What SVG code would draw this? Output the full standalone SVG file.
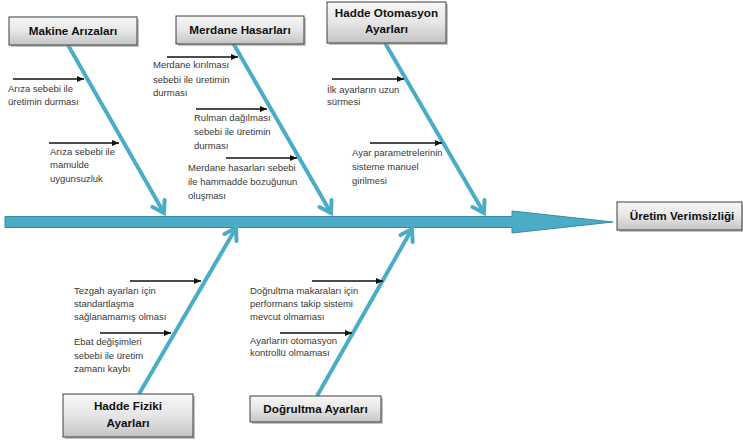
<svg xmlns="http://www.w3.org/2000/svg" width="743" height="440" viewBox="0 0 743 440">
<defs>
<linearGradient id="boxg" x1="0" y1="0" x2="0" y2="1">
<stop offset="0" stop-color="#f7f7f7"/>
<stop offset="0.5" stop-color="#e6e6e6"/>
<stop offset="1" stop-color="#c4c4c4"/>
</linearGradient>
<marker id="bone" markerUnits="userSpaceOnUse" markerWidth="30" markerHeight="30" viewBox="-15 -15 30 30" refX="0" refY="0" orient="auto">
<path d="M-11,-7 L0,0 L-11,7" fill="none" stroke="#4bacc6" stroke-width="4" stroke-linecap="round" stroke-linejoin="miter"/>
</marker>
<marker id="small" markerUnits="userSpaceOnUse" markerWidth="12" markerHeight="10" viewBox="-8 -5 10 10" refX="0" refY="0" orient="auto">
<path d="M-7,-3 L0,0 L-7,3 Z" fill="#111"/>
</marker>
</defs>
<style>
.box{fill:url(#boxg);stroke:#3f3f3f;stroke-width:1}
.shadow{fill:#9a9a9a;opacity:0.6}
.bt{font-family:"Liberation Sans",Arial,sans-serif;font-weight:bold;font-size:11.7px;fill:#111;text-anchor:middle}
.t{font-family:"Liberation Sans",Arial,sans-serif;font-size:9.5px;fill:#383838}
.b{stroke:#4bacc6;stroke-width:4;fill:none;marker-end:url(#bone)}
.a{stroke:#111;stroke-width:1.3;fill:none;marker-end:url(#small)}
</style>
<rect width="743" height="440" fill="#ffffff"/>

<g id="connectors">
<path id="spine" d="M5,216.5 L512,216.5 L512,211 L613,222 L512,233 L512,227.5 L5,227.5 Z" fill="#4bacc6" stroke="#3a8aa0" stroke-width="1"/>
<line class="b" x1="68" y1="45" x2="164" y2="213"/>
<line class="b" x1="233" y1="43" x2="331" y2="213"/>
<line class="b" x1="385" y1="43" x2="484" y2="213"/>
<line class="b" x1="139" y1="394" x2="236" y2="228"/>
<line class="b" x1="317" y1="396" x2="412" y2="229"/>
<line class="a" x1="13" y1="79" x2="84" y2="79"/>
<line class="a" x1="49" y1="143" x2="119" y2="143"/>
<line class="a" x1="167" y1="57" x2="238" y2="57"/>
<line class="a" x1="196" y1="109" x2="267" y2="109"/>
<line class="a" x1="226" y1="158" x2="297" y2="158"/>
<line class="a" x1="332" y1="79" x2="404" y2="79"/>
<line class="a" x1="370" y1="143" x2="442" y2="143"/>
<line class="a" x1="130" y1="281" x2="201" y2="281"/>
<line class="a" x1="100" y1="333" x2="171" y2="333"/>
<line class="a" x1="312" y1="281" x2="383" y2="281"/>
<line class="a" x1="280" y1="333" x2="352" y2="333"/>
</g>

<g id="makine">
<rect class="shadow" x="11" y="19" width="128" height="28"/>
<rect class="box" x="9" y="17" width="128" height="28"/>
<text class="bt" x="73" y="35">Makine Arızaları</text>
<text class="t"><tspan x="8" y="92">Arıza sebebi ile</tspan><tspan x="8" y="105">üretimin durması</tspan></text>
<text class="t"><tspan x="50" y="155">Arıza sebebi ile</tspan><tspan x="50" y="168">mamulde</tspan><tspan x="50" y="182">uygunsuzluk</tspan></text>
</g>

<g id="merdane">
<rect class="shadow" x="178" y="18" width="128" height="28"/>
<rect class="box" x="176" y="16" width="128" height="28"/>
<text class="bt" x="240" y="34">Merdane Hasarları</text>
<text class="t"><tspan x="153" y="68">Merdane kırılması</tspan><tspan x="153" y="83">sebebi ile üretimin</tspan><tspan x="153" y="96">durması</tspan></text>
<text class="t"><tspan x="194" y="121">Rulman dağılması</tspan><tspan x="194" y="135">sebebi ile üretimin</tspan><tspan x="194" y="149">durması</tspan></text>
<text class="t"><tspan x="188" y="171">Merdane hasarları sebebi</tspan><tspan x="188" y="185">ile hammadde bozuğunun</tspan><tspan x="188" y="199">oluşması</tspan></text>
</g>

<g id="otomasyon">
<rect class="shadow" x="329" y="4" width="119" height="41"/>
<rect class="box" x="327" y="2" width="119" height="41"/>
<text class="bt" x="386.5" y="17">Hadde Otomasyon</text>
<text class="bt" x="386.5" y="33">Ayarları</text>
<text class="t"><tspan x="327" y="93">İlk ayarların uzun</tspan><tspan x="327" y="105">sürmesi</tspan></text>
<text class="t"><tspan x="352" y="156">Ayar parametrelerinin</tspan><tspan x="352" y="170">sisteme manuel</tspan><tspan x="352" y="184">girilmesi</tspan></text>
</g>

<g id="uretim">
<rect class="shadow" x="619" y="204" width="124" height="28"/>
<rect class="box" x="617" y="202" width="125" height="28"/>
<text class="bt" x="682" y="220">Üretim Verimsizliği</text>
</g>

<g id="fiziki">
<rect class="shadow" x="65" y="396" width="130" height="43"/>
<rect class="box" x="63" y="394" width="130" height="43"/>
<text class="bt" x="128" y="410">Hadde Fiziki</text>
<text class="bt" x="128" y="427">Ayarları</text>
<text class="t"><tspan x="74" y="294">Tezgah ayarları için</tspan><tspan x="74" y="307">standartlaşma</tspan><tspan x="74" y="320">sağlanamamış olması</tspan></text>
<text class="t"><tspan x="74" y="345">Ebat değişimleri</tspan><tspan x="74" y="359">sebebi ile üretim</tspan><tspan x="74" y="372">zamanı kaybı</tspan></text>
</g>

<g id="dogrultma">
<rect class="shadow" x="252" y="398" width="131" height="26"/>
<rect class="box" x="250" y="396" width="131" height="26"/>
<text class="bt" x="315.5" y="413">Doğrultma Ayarları</text>
<text class="t"><tspan x="250" y="294">Doğrultma makaraları için</tspan><tspan x="250" y="307">performans  takip sistemi</tspan><tspan x="250" y="320">mevcut olmaması</tspan></text>
<text class="t"><tspan x="250" y="344">Ayarların otomasyon</tspan><tspan x="250" y="356">kontrollü  olmaması</tspan></text>
</g>
</svg>
